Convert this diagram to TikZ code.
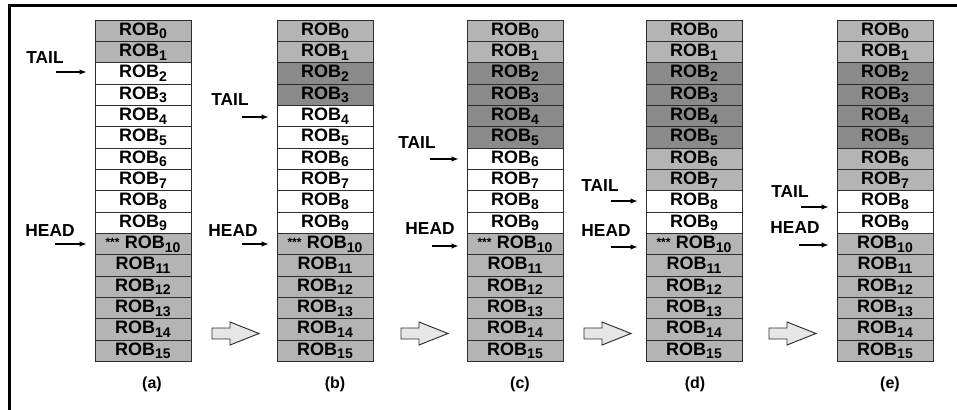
\documentclass[tikz,border=0pt]{standalone}
\usepackage{fontspec}
\setmainfont{Liberation Sans}
\usetikzlibrary{arrows.meta,positioning}
\definecolor{slotlight}{RGB}{180,180,180}
\definecolor{slotdark}{RGB}{138,138,138}
\definecolor{slotline}{RGB}{45,45,45}
\definecolor{stepfill}{RGB}{230,230,230}
\tikzset{
  slot/.style={draw=slotline,line width=0.6pt,anchor=north west,
    minimum width=72pt,minimum height=16pt,inner sep=0pt,outer sep=0pt,
    font=\fontsize{13.5}{14}\selectfont\bfseries},
  lightslot/.style={slot,fill=slotlight},
  darkslot/.style={slot,fill=slotdark},
  freeslot/.style={slot,fill=white},
  ptrname/.style={font=\fontsize{13}{15}\selectfont\bfseries,inner sep=0pt},
  ptr/.style={-{Latex[length=5.5pt,width=4pt]},line width=1.1pt,shorten >=6pt},
  caption/.style={font=\fontsize{12}{13}\selectfont\bfseries,inner sep=0pt},
  stepper/.style={draw=slotline,line width=0.7pt,fill=stepfill},
  frame/.style={line width=2.2pt}
}
\newcommand{\robname}[1]{ROB\raisebox{-2.8pt}{\fontsize{10.5}{11}\selectfont #1}}
\newcommand{\oldest}{\raisebox{1.5pt}{\fontsize{9}{9}\selectfont ***}\hspace{4pt}}

\begin{document}
\begin{tikzpicture}[x=0.75pt,y=-0.75pt]
  \useasboundingbox (0,0) rectangle (957,410);
  \draw[frame] (9.5,410) -- (9.5,5.5) -- (957,5.5);
  % the five snapshots of the buffer
  \foreach \col/\x/\dk/\wh/\flag in {a/95/2/2/1,b/277/4/4/1,c/467/6/6/1,
      d/646/6/8/1,e/837/6/8/0} {
    \foreach \i in {0,...,15} {
      \ifnum\i<2 \def\shade{lightslot}\else
        \ifnum\i<\dk \def\shade{darkslot}\else
          \ifnum\i<\wh \def\shade{lightslot}\else
            \ifnum\i<10 \def\shade{freeslot}\else
              \def\shade{lightslot}\fi\fi\fi\fi
      \ifnum\i=10 \ifnum\flag=1 \def\pre{\oldest}\else\def\pre{}\fi
      \else\def\pre{}\fi
      \node[\shade] (\col-\i) at (\x,20+21.333*\i) {\pre\robname{\i}};
    }
  }
  % tail and head pointers
  \foreach \col/\tx/\ty/\tsx/\tsy/\tslot/\hx/\hy/\hsx/\hsy in {
      a/45/58/56/72/2/50/231/55/244,
      b/230/100/242/117/4/233/231/242/244,
      c/417/143/430/159/6/430/229/432/246,
      d/600/186/611/201/8/606/231/611/247,
      e/790/192/801/207/8/795/228/799/245} {
    \node[ptrname] (tail-\col) at (\tx,\ty) {TAIL};
    \node[ptrname] (head-\col) at (\hx,\hy) {HEAD};
    \coordinate (tail-\col-from) at (\tsx,\tsy);
    \coordinate (head-\col-from) at (\hsx,\hsy);
    \draw[ptr] (tail-\col-from) -- (tail-\col-from -| \col-\tslot.west);
    \draw[ptr] (head-\col-from) -- (head-\col-from -| \col-10.west);
  }
  % steps between snapshots
  \foreach \bx in {212,401,584,769} {
    \draw[stepper] (\bx,328) -- ++(18,0) -- ++(0,-6) -- ++(29,11.5)
      -- ++(-29,11.5) -- ++(0,-6) -- ++(-18,0) -- cycle;
  }
  \foreach \col/\cx in {a/152,b/335,c/520,d/695,e/890}
    \node[caption] (cap-\col) at (\cx,384) {(\col)};
\end{tikzpicture}
\end{document}
